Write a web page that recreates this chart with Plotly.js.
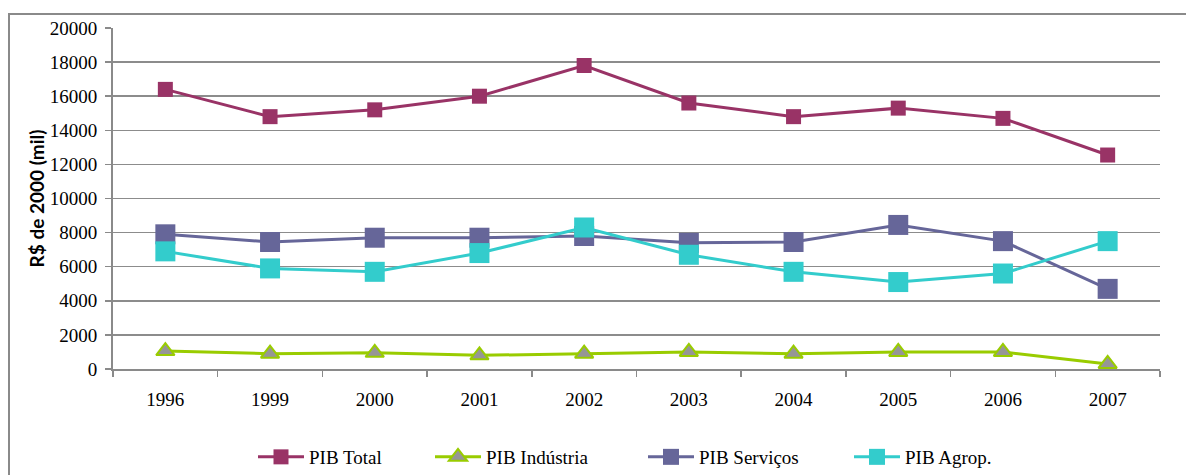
<!DOCTYPE html>
<html><head><meta charset="utf-8">
<script src="https://cdn.plot.ly/plotly-3.0.1.min.js"></script>
<style>
html,body{margin:0;padding:0;background:#fff;}
#frame{position:absolute;left:8px;top:13px;width:1300px;height:600px;border:2px solid #8a8a8a;box-sizing:border-box;}
#chart{position:absolute;left:0;top:0;width:1186px;height:475px;}
</style></head>
<body>
<div id="frame"></div>
<div id="chart"></div>
<script>
const years = ['1996','1999','2000','2001','2002','2003','2004','2005','2006','2007'];
const pibTotal    = [16400,14800,15200,16000,17800,15600,14800,15300,14700,12550];
const pibIndustria= [1050,900,950,800,900,1000,900,1000,1000,300];
const pibServicos = [7900,7450,7700,7700,7800,7400,7450,8450,7500,4700];
const pibAgrop    = [6900,5900,5700,6800,8300,6700,5700,5100,5600,7500];
const seriesNames = ['PIB Total','PIB Indústria','PIB Serviços','PIB Agrop.'];
const yTickVals = [0,2000,4000,6000,8000,10000,12000,14000,16000,18000,20000];

const serif = 'Liberation Serif';
const traces = [
  {x:years, y:pibTotal, name:seriesNames[0], type:'scatter', mode:'lines+markers', legend:'legend',
   line:{color:'#993366', width:3}, marker:{symbol:'square', size:15, color:'#993366'}},
  {x:years, y:pibIndustria, name:seriesNames[1], type:'scatter', mode:'lines+markers', legend:'legend2',
   line:{color:'#99CC00', width:3}, marker:{symbol:'triangle-up', size:16, color:'#969696', line:{color:'#99CC00', width:2}}},
  {x:years, y:pibServicos, name:seriesNames[2], type:'scatter', mode:'lines+markers', legend:'legend3',
   line:{color:'#666699', width:3}, marker:{symbol:'square', size:20, color:'#666699'}},
  {x:years, y:pibAgrop, name:seriesNames[3], type:'scatter', mode:'lines+markers', legend:'legend4',
   line:{color:'#33CCCC', width:3}, marker:{symbol:'square', size:20, color:'#33CCCC'}}
];
function leg(xpx){
  return {orientation:'h', xref:'container', yref:'container', x:xpx/1186, xanchor:'left', y:(475-457)/475, yanchor:'middle',
    font:{family:serif, size:19, color:'#000'}, bgcolor:'rgba(0,0,0,0)', itemwidth:46, borderwidth:0};
}
const layout = {
  width:1186, height:475,
  font:{family:serif},
  margin:{l:113, r:26, t:28, b:106, autoexpand:false},
  paper_bgcolor:'rgba(0,0,0,0)', plot_bgcolor:'rgba(0,0,0,0)',
  showlegend:true,
  legend:leg(253), legend2:leg(430), legend3:leg(643), legend4:leg(849),
  xaxis:{type:'category', range:[-0.5,9.5], showgrid:false, showline:true, linecolor:'#8a8a8a', linewidth:2,
    ticks:'outside', tickson:'boundaries', ticklen:6, tickcolor:'#8a8a8a', tickwidth:1.5,
    ticklabelstandoff:12, tickfont:{family:serif, size:19, color:'#000'}, fixedrange:true},
  yaxis:{range:[0,20000], tickvals:yTickVals, ticktext:yTickVals.map(String),
    showgrid:true, gridcolor:'#8c8c8c', gridwidth:1.5, zeroline:false,
    showline:true, linecolor:'#8a8a8a', linewidth:2,
    ticks:'outside', ticklen:6, tickcolor:'#8a8a8a', tickwidth:1.5, ticklabelstandoff:4,
    tickfont:{family:serif, size:19, color:'#000'},
    title:{text:'R$ de 2000 (mil)', font:{family:'Lato', size:19, color:'#000', weight:'bold'}, standoff:0},
    fixedrange:true}
};
Plotly.newPlot('chart', traces, layout, {displayModeBar:false, staticPlot:true});
</script>
</body></html>
